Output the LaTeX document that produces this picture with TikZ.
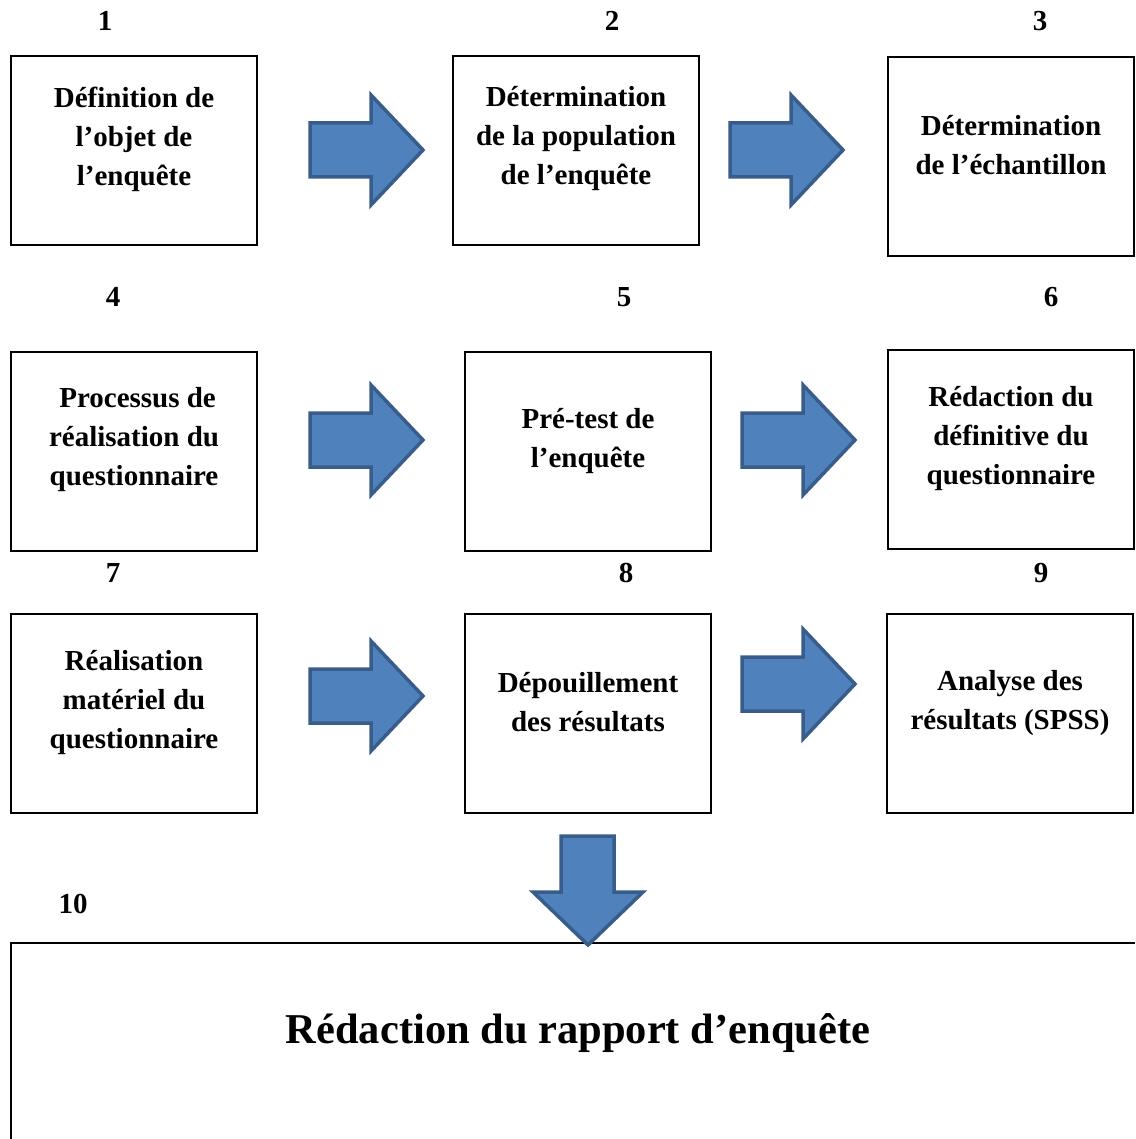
\documentclass[tikz,border=0pt]{standalone}
\usepackage{fontspec}
\setmainfont{Liberation Serif}
\begin{document}
\begin{tikzpicture}[x=1pt,y=-1pt,
  box/.style={draw=black,line width=2pt,inner sep=0pt},
  lbl/.style={font=\fontsize{29}{39}\selectfont\bfseries,align=center,inner sep=0pt,anchor=center},
  num/.style={font=\fontsize{29}{34}\selectfont\bfseries,inner sep=0pt},
  barrow/.style={fill={rgb,255:red,79;green,129;blue,189},draw={rgb,255:red,56;green,93;blue,138},line width=3.5pt,line join=miter}]
\useasboundingbox (0,0) rectangle (1135,1139);
\fill[white] (0,0) rectangle (1135,1139);
% boxes
\node[box,minimum width=246pt,minimum height=189pt] (b1) at (134,150.5) {};
\node[box,minimum width=246pt,minimum height=189pt] (b2) at (576,150.5) {};
\node[box,minimum width=246pt,minimum height=199pt] (b3) at (1011,156.5) {};
\node[box,minimum width=246pt,minimum height=199pt] (b4) at (134,451.5) {};
\node[box,minimum width=246pt,minimum height=199pt] (b5) at (588,451.5) {};
\node[box,minimum width=246pt,minimum height=199pt] (b6) at (1011,449.5) {};
\node[box,minimum width=246pt,minimum height=199pt] (b7) at (134,713.5) {};
\node[box,minimum width=246pt,minimum height=199pt] (b8) at (588,713.5) {};
\node[box,minimum width=246pt,minimum height=199pt] (b9) at (1010,713.5) {};
\coordinate (b10tr) at (1135,943);
\coordinate (b10bl) at (11,1139);
\draw[line width=2pt] (b10bl) |- (b10tr);
% labels
\node[lbl] (t1) at (134,139) {Définition de\\l’objet de\\l’enquête};
\node[lbl] (t2) at (576,139) {Détermination\\de la population\\de l’enquête};
\node[lbl] (t3) at (1011,145.5) {Détermination\\de l’échantillon};
\node[lbl] (t4) at (134,440) {\ Processus de\\réalisation du\\questionnaire};
\node[lbl] (t5) at (588,441) {Pré-test de\\l’enquête};
\node[lbl] (t6) at (1011,439) {Rédaction du\\définitive du\\questionnaire};
\node[lbl] (t7) at (134,703) {Réalisation\\matériel du\\questionnaire};
\node[lbl] (t8) at (588,702.5) {Dépouillement\\des résultats};
\node[lbl] (t9) at (1010,703.5) {Analyse des\\résultats (SPSS)};
\node[font=\fontsize{42.5}{50}\selectfont\bfseries,inner sep=0pt] (t10) at (578,1033) {Rédaction du rapport d’enquête};
% numbers
\node[num] (n1) at (105,21) {1};
\node[num] (n2) at (612,21) {2};
\node[num] (n3) at (1040,21) {3};
\node[num] (n4) at (113,297) {4};
\node[num] (n5) at (624,297) {5};
\node[num] (n6) at (1051,297) {6};
\node[num] (n7) at (113,573) {7};
\node[num] (n8) at (626,573) {8};
\node[num] (n9) at (1041,573) {9};
\node[num] (n10) at (73,904) {10};
% block arrows: left x, centre y
\newcommand{\rarrow}[2]{\draw[barrow] (#1,#2-27) -- (#1+61,#2-27) -- (#1+61,#2-55) -- (#1+113,#2) -- (#1+61,#2+55) -- (#1+61,#2+27) -- (#1,#2+27) -- cycle;}
\rarrow{310}{150}
\rarrow{730}{150}
\rarrow{310}{440}
\rarrow{742}{440}
\rarrow{310}{696}
\rarrow{742}{684}
\draw[barrow] (561,836) -- (614,836) -- (614,892) -- (643,892) -- (588,945) -- (533,892) -- (561,892) -- cycle;
\end{tikzpicture}
\end{document}
